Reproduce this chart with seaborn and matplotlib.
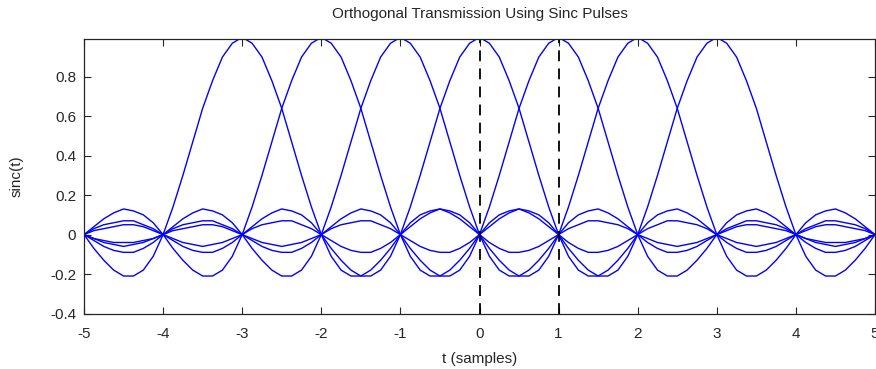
import seaborn as sns
import matplotlib.pyplot as plt
import pandas as pd

# pulse centres (in samples)
centres = [-3, -2, -1, 0, 1, 2, 3]

# one pulse: offset from centre (0 .. 8, step 1/8) and height
half_offsets = [i / 8 for i in range(65)]
half_values = [
    1.00, 0.97, 0.90, 0.78, 0.64, 0.47, 0.30, 0.14,
    0.00, -0.11, -0.18, -0.21, -0.21, -0.18, -0.13, -0.07,
    0.00, 0.06, 0.10, 0.12, 0.13, 0.11, 0.08, 0.04,
    0.00, -0.04, -0.07, -0.09, -0.09, -0.08, -0.06, -0.03,
    0.00, 0.03, 0.05, 0.07, 0.07, 0.06, 0.05, 0.03,
    0.00, -0.02, -0.04, -0.05, -0.06, -0.05, -0.04, -0.02,
    0.00, 0.02, 0.04, 0.05, 0.05, 0.04, 0.03, 0.02,
    0.00, -0.02, -0.03, -0.04, -0.04, -0.04, -0.03, -0.02,
    0.00,
]

# dashed sampling instants
dashed_at = [0, 1]

x_ticks = [-5, -4, -3, -2, -1, 0, 1, 2, 3, 4, 5]
y_ticks = [-0.4, -0.2, 0, 0.2, 0.4, 0.6, 0.8]
y_tick_labels = ["-0.4", "-0.2", "0", "0.2", "0.4", "0.6", "0.8"]

# full symmetric pulse
offsets = [-o for o in half_offsets[:0:-1]] + half_offsets
values = half_values[:0:-1] + half_values

rows = []
for c in centres:
    for o, v in zip(offsets, values):
        t = c + o
        if -5 <= t <= 5:
            rows.append({"pulse": c, "t": t, "sinc": v})
df = pd.DataFrame(rows)

sns.set_style("ticks")
plt.rcParams["font.family"] = ["Liberation Sans", "DejaVu Sans"]

fig = plt.figure(figsize=(8.76, 3.69), dpi=100)
ax = fig.add_axes([84 / 876, 1 - 313.5 / 369, 791 / 876, 274.2 / 369])

sns.lineplot(data=df, x="t", y="sinc", hue="pulse", palette=["#0000ff"] * len(centres),
             estimator=None, legend=False, linewidth=1.0, ax=ax)

for d in dashed_at:
    ax.axvline(d, color="black", linestyle=(0, (6, 4)), linewidth=1.3)

ax.set_xlim(-5, 5)
ax.set_ylim(-0.4, 0.99)
ax.set_xticks(x_ticks)
ax.set_yticks(y_ticks)
ax.set_xticklabels([str(v) for v in x_ticks])
ax.set_yticklabels(y_tick_labels)
ax.tick_params(direction="in", top=True, right=True, length=5, width=0.8, labelsize=11)
ax.tick_params(axis="x", pad=10)
ax.tick_params(axis="y", pad=5.5)
for s in ax.spines.values():
    s.set_linewidth(0.9)

ax.set_title("Orthogonal Transmission Using Sinc Pulses", fontsize=11, pad=15)
ax.set_xlabel("t (samples)", fontsize=11, labelpad=8)
ax.set_ylabel("sinc(t)", fontsize=11, labelpad=19)

fig.savefig("out.png", dpi=100)
